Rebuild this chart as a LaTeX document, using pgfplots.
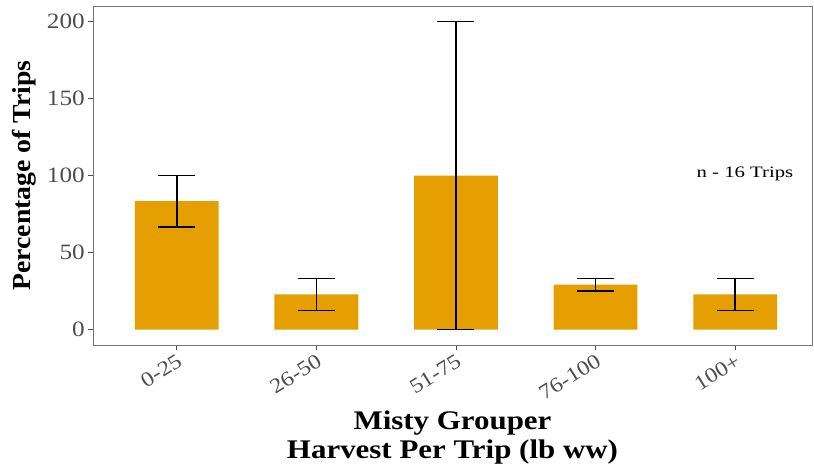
\documentclass[border=0pt]{standalone}
\usepackage{fontspec}
\setmainfont{Liberation Serif}
\newfontfamily\wf{Liberation Serif}[FakeStretch=1.15]
\newfontfamily\wfy{Liberation Serif}[FakeStretch=1.07]
\newfontfamily\wfn{Liberation Serif}[FakeStretch=1.3]
\usepackage{pgfplots}
\pgfplotsset{compat=1.18}
\definecolor{barc}{HTML}{E69F00}
\definecolor{axc}{HTML}{4D4D4D}
\begin{document}
\begin{tikzpicture}
\begin{axis}[
 scale only axis, width=719bp, height=339bp,
 xmin=-0.6, xmax=4.55, ymin=-10, ymax=210,
 axis line style={draw=black!55, line width=0.8pt},
 xtick={0,...,4}, xticklabels={0-25,26-50,51-75,76-100,100+},
 ytick={0,50,100,150,200},
 tick align=outside, tick pos=left, major tick length=5bp,
 tick style={draw=axc, line width=0.8pt},
 x tick label style={rotate=32, anchor=north east, font=\wf\fontsize{21}{24}\selectfont, text=axc, inner sep=2bp},
 y tick label style={font=\wf\fontsize{22}{24}\selectfont, text=axc, inner sep=3bp},
 /pgf/number format/assume math mode=true,
 ylabel={\textbf{Percentage of Trips}},
 ylabel style={font=\wfy\fontsize{26}{28}\selectfont, yshift=4bp},
 xlabel={\textbf{Misty Grouper}\\\textbf{Harvest Per Trip (lb ww)}},
 xlabel style={align=center, font=\wf\fontsize{27}{30}\selectfont, yshift=-3bp},
]
\addplot[ybar, bar width=0.6, fill=barc, draw=none,
  error bars/.cd, y dir=both, y explicit,
  error bar style={line width=1.5pt, black},
  error mark options={line width=1.5pt, black, mark size=18.5bp, rotate=90}]
 coordinates {
 (0,83.3) += (0,16.7) -= (0,16.6)
 (1,22.9) += (0,10.4) -= (0,10.4)
 (2,100) += (0,100) -= (0,100)
 (3,29.2) += (0,4.1) -= (0,4.2)
 (4,22.9) += (0,10.4) -= (0,10.4)
 };
\node[font=\wfn\fontsize{16}{19}\selectfont] at (axis cs:4.07,101) {n - 16 Trips};
\coordinate (sw) at (rel axis cs:0,0);
\coordinate (ne) at (rel axis cs:1,1);
\end{axis}
\path[use as bounding box] ([xshift=-93bp,yshift=-123bp]sw) rectangle ([xshift=2bp,yshift=6bp]ne);
\end{tikzpicture}
\end{document}
